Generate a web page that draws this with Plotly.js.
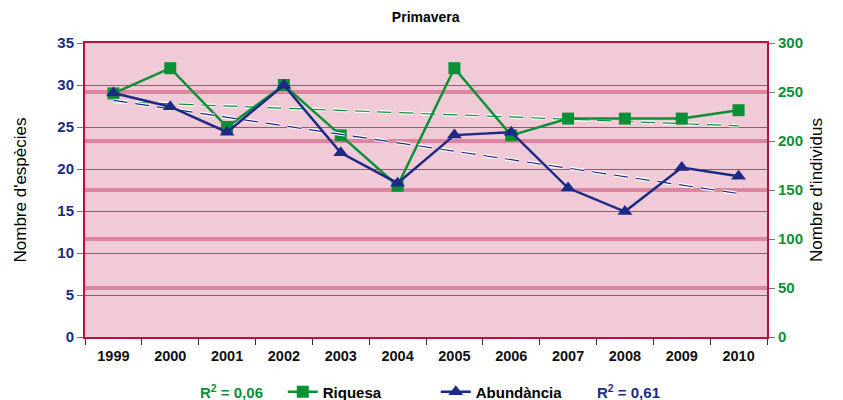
<!DOCTYPE html>
<html><head><meta charset="utf-8">
<script src="https://cdn.plot.ly/plotly-3.0.1.min.js"></script>
<style>body{margin:0;background:#fff}#c{width:843px;height:400px}</style>
</head><body><div id="c"></div>
<script>
const years = ['1999','2000','2001','2002','2003','2004','2005','2006','2007','2008','2009','2010'];
const riquesa = [29,32,25,30,24,18,32,24,26,26,26,27];
const abundancia = [249,235,209,257,188,157,206,209,152,128,173,164];
const r2Riquesa = 'R<sup>2</sup> = 0,06';
const r2Abundancia = 'R<sup>2</sup> = 0,61';

function trend(vals){
  const n=vals.length; let sx=0,sy=0,sxy=0,sxx=0;
  vals.forEach((v,i)=>{sx+=i;sy+=v;sxy+=i*v;sxx+=i*i;});
  const b=(n*sxy-sx*sy)/(n*sxx-sx*sx), a=(sy-b*sx)/n;
  return vals.map((v,i)=>a+b*i);
}
const green='#0a9136', navy='#1d2a85', crim='#b8123f';
const font='Liberation Sans, Arial, sans-serif';
const dashPat='14px,8px';
const traces=[
 {x:years,y:trend(riquesa),mode:'lines',line:{color:'#ffffff',width:3.5,dash:dashPat},showlegend:false,hoverinfo:'skip'},
 {x:years,y:trend(riquesa),mode:'lines',line:{color:green,width:1.2,dash:dashPat},showlegend:false,hoverinfo:'skip'},
 {x:years,y:trend(abundancia),yaxis:'y2',mode:'lines',line:{color:'#ffffff',width:3.5,dash:dashPat},showlegend:false,hoverinfo:'skip'},
 {x:years,y:trend(abundancia),yaxis:'y2',mode:'lines',line:{color:navy,width:1.2,dash:dashPat},showlegend:false,hoverinfo:'skip'},
 {x:years,y:riquesa,name:'Riquesa',mode:'lines+markers',line:{color:green,width:2.5},marker:{symbol:'square',size:12,color:green}},
 {x:years,y:abundancia,name:'Abundància',yaxis:'y2',mode:'lines+markers',line:{color:navy,width:2.5},marker:{symbol:'triangle-up',size:13,color:navy}}
];
const layout={
 width:843,height:400,margin:{l:85,r:76,t:43,b:63,autoexpand:false},
 paper_bgcolor:'#ffffff',plot_bgcolor:'#f0cad7',
 font:{family:font,size:13,color:'#000'},
 title:{text:'<b>Primavera</b>',x:0.505,xanchor:'center',y:0.957,yanchor:'middle',font:{size:14,family:font,color:'#000'}},
 xaxis:{type:'category',range:[-0.5,11.5],tickson:'boundaries',ticks:'outside',ticklen:6,tickcolor:'#333',automargin:false,
   ticklabelstandoff:5,
   showline:true,linecolor:crim,linewidth:2,mirror:true,showgrid:false,
   tickfont:{family:font,size:14.5,color:'#111',weight:'bold'}},
 yaxis:{range:[0,35],dtick:5,ticks:'outside',ticklen:6,tickcolor:'#777',showline:true,linecolor:crim,linewidth:2,automargin:false,
   gridcolor:'#c4436c',gridwidth:1,zeroline:false,
   tickfont:{family:font,size:15,color:navy,weight:'bold'},
   title:{text:"Nombre d'espècies",font:{family:font,size:17,color:'#000'},standoff:26}},
 yaxis2:{range:[0,300],dtick:50,overlaying:'y',side:'right',ticks:'outside',ticklen:6,tickcolor:'#777',automargin:false,
   showline:true,linecolor:crim,linewidth:2,gridcolor:'#dc859f',gridwidth:4,zeroline:false,
   tickfont:{family:font,size:15,color:green,weight:'bold'},
   title:{text:"Nombre d'individus",font:{family:font,size:17,color:'#000'},standoff:8}},
 legend:{orientation:'h',x:0.29,xanchor:'left',y:-0.187,yanchor:'middle',font:{family:font,size:15,color:'#000',weight:'bold'},
   bgcolor:'rgba(0,0,0,0)',entrywidth:108,entrywidthmode:'pixels',itemwidth:30,tracegroupgap:0},
 annotations:[
  {text:'<b>'+r2Riquesa+'</b>',xref:'paper',yref:'paper',x:0.215,y:-0.187,xanchor:'center',yanchor:'middle',showarrow:false,font:{family:font,size:15,color:green}},
  {text:'<b>'+r2Abundancia+'</b>',xref:'paper',yref:'paper',x:0.797,y:-0.187,xanchor:'center',yanchor:'middle',showarrow:false,font:{family:font,size:15,color:navy}}
 ],
 showlegend:true
};
Plotly.newPlot('c',traces,layout,{displayModeBar:false,staticPlot:true});
</script></body></html>
